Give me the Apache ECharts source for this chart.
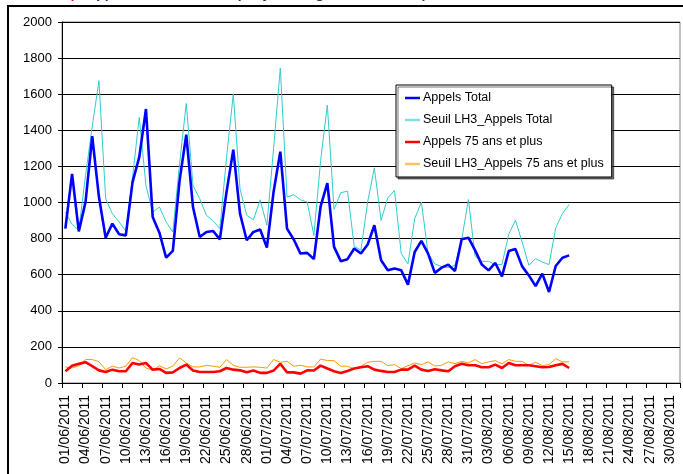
<!DOCTYPE html>
<html>
<head>
<meta charset="utf-8">
<script src="https://cdn.jsdelivr.net/npm/echarts@6/dist/echarts.min.js"></script>
<style>
html,body{margin:0;padding:0;background:#fff;}
#chart{width:683px;height:474px;}
</style>
</head>
<body>
<div id="chart"></div>
<script>
// Categories: every day from 01/06/2011 to 31/08/2011
var months = [['06', 30], ['07', 31], ['08', 31]];
var categories = [];
months.forEach(function (m) {
  for (var d = 1; d <= m[1]; d++) {
    categories.push((d < 10 ? '0' + d : '' + d) + '/' + m[0] + '/2011');
  }
});

var seriesNames = ['Appels Total', 'Seuil LH3_Appels Total', 'Appels 75 ans et plus', 'Seuil LH3_Appels 75 ans et plus'];

var appelsTotal = [
  855, 1159, 840, 1002, 1367, 1030, 805, 883, 824, 818,
  1113, 1251, 1518, 920, 833, 695, 732, 1120, 1376, 975,
  809, 837, 842, 796, 1060, 1293, 938, 791, 837, 850,
  750, 1060, 1282, 855, 795, 717, 721, 686, 978, 1107,
  754, 675, 686, 745, 717, 767, 874, 680, 625, 635,
  625, 545, 726, 787, 717, 610, 639, 656, 620, 796,
  805, 735, 656, 624, 665, 591, 731, 742, 646, 596,
  537, 606, 504, 648, 694, 707
];

var seuilTotal = [
  947, 879, 846, 1150, 1420, 1675, 1021, 938, 892, 842,
  1140, 1472, 1094, 947, 975, 892, 837, 1214, 1549, 1094,
  1021, 929, 898, 855, 1250, 1600, 1076, 929, 905, 1015,
  874, 1300, 1745, 1030, 1043, 1015, 1002, 818, 1232, 1540,
  962, 1054, 1063, 758, 736, 1002, 1192, 901, 1026, 1067,
  717, 660, 910, 1002, 717, 660, 645, 639, 652, 794,
  1016, 702, 674, 674, 656, 657, 824, 902, 781, 652,
  689, 670, 656, 859, 939, 989
];

var appels75 = [
  65, 96, 106, 115, 93, 70, 61, 74, 65, 65,
  111, 102, 111, 74, 78, 56, 59, 83, 102, 69,
  61, 61, 61, 65, 83, 74, 70, 59, 69, 56,
  56, 69, 107, 59, 59, 52, 70, 69, 96, 80,
  65, 56, 67, 80, 87, 93, 74, 67, 61, 61,
  74, 74, 96, 74, 67, 76, 70, 65, 93, 107,
  98, 98, 87, 87, 102, 83, 111, 98, 98, 98,
  93, 87, 89, 98, 106, 83
];

var seuil75 = [
  89, 83, 96, 130, 130, 118, 74, 93, 83, 93,
  141, 124, 83, 70, 96, 78, 93, 139, 111, 89,
  89, 98, 93, 87, 130, 98, 87, 87, 89, 87,
  83, 130, 115, 120, 93, 98, 89, 89, 133, 124,
  124, 93, 93, 78, 93, 115, 120, 120, 96, 102,
  80, 96, 111, 102, 117, 94, 98, 117, 107, 120,
  111, 130, 107, 117, 124, 106, 130, 120, 120, 98,
  115, 96, 102, 135, 117, 117
];

var FONT = '"Liberation Sans", Arial, sans-serif';

var chart = echarts.init(document.getElementById('chart'), null, {renderer: 'canvas'});

function lineSeries(name, data, color, width, z) {
  return {
    name: name, type: 'line', data: data, symbol: 'none', showSymbol: false,
    lineStyle: {color: color, width: width}, itemStyle: {color: color},
    z: z, animation: false
  };
}

chart.setOption({
  animation: false,
  backgroundColor: '#ffffff',
  graphic: [
    {type: 'rect', silent: true, z: 0,
     shape: {x: 8, y: 6, width: 720, height: 520},
     style: {fill: 'none', stroke: '#000000', lineWidth: 2}},
    {type: 'text', silent: true, x: 2, y: -13,
     style: {
       text: '{r|15/08/2011)}{b| : appels SOS Médecins par jour - région - 75 ans et plus}',
       font: 'bold 14px ' + FONT,
       rich: {
         r: {fill: '#ff0000', fontWeight: 'bold', fontSize: 14, fontFamily: FONT},
         b: {fill: '#1f3a6a', fontWeight: 'bold', fontSize: 14, fontFamily: FONT}
       }
     }}
  ],
  grid: {
    left: 62, top: 22, width: 618, height: 361,
    show: true, borderColor: '#808080', borderWidth: 1, backgroundColor: 'transparent'
  },
  legend: {
    orient: 'vertical', left: 396, top: 85,
    padding: [6, 8, 6, 9], itemGap: 8, itemWidth: 15, itemHeight: 2.5,
    icon: 'rect',
    backgroundColor: '#ffffff', borderColor: '#000000', borderWidth: 1,
    shadowColor: 'rgba(0,0,0,0.55)', shadowOffsetX: 2, shadowOffsetY: 2, shadowBlur: 0,
    textStyle: {color: '#000000', fontSize: 12.5, lineHeight: 14, fontFamily: FONT, padding: [0, 0, 0, -2]},
    data: [
      {name: seriesNames[0], itemStyle: {color: '#0000ff'}},
      {name: seriesNames[1], itemStyle: {color: '#80e0e0'}},
      {name: seriesNames[2], itemStyle: {color: '#ff0000'}},
      {name: seriesNames[3], itemStyle: {color: '#ffc060'}}
    ]
  },
  xAxis: {
    type: 'category', data: categories, boundaryGap: true,
    axisLine: {show: true, lineStyle: {color: '#000000', width: 1}},
    axisTick: {show: true, interval: 2, length: 5, lineStyle: {color: '#000000'}},
    axisLabel: {interval: 2, rotate: 90, margin: 12, color: '#000000', fontSize: 14, fontFamily: FONT},
    splitLine: {show: false}
  },
  yAxis: {
    type: 'value', min: 0, max: 2000, interval: 200,
    axisLine: {show: true, lineStyle: {color: '#000000', width: 1}},
    axisTick: {show: true, length: 4, lineStyle: {color: '#000000'}},
    axisLabel: {margin: 10, color: '#000000', fontSize: 13, fontFamily: FONT,
      formatter: function (v) { return String(v); }},
    splitLine: {show: true, lineStyle: {color: '#000000', width: 1}}
  },
  series: [
    lineSeries(seriesNames[0], appelsTotal, '#0000ff', 2.6, 4),
    lineSeries(seriesNames[1], seuilTotal, '#33cccc', 1, 3),
    lineSeries(seriesNames[2], appels75, '#ff0000', 2.6, 4),
    lineSeries(seriesNames[3], seuil75, '#ff9900', 1, 3)
  ]
});
</script>
</body>
</html>
